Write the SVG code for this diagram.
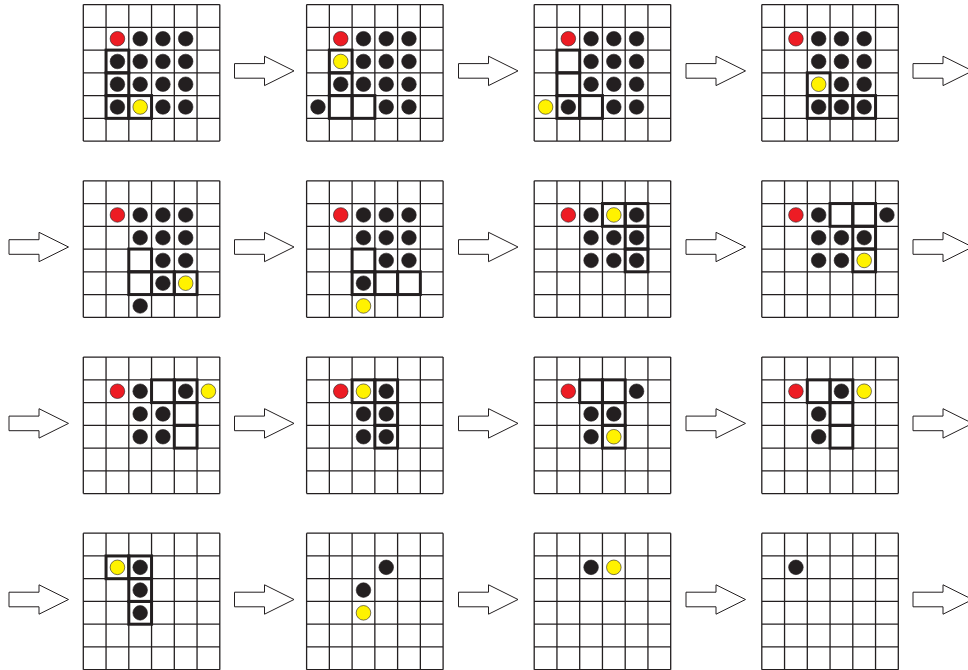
<svg xmlns="http://www.w3.org/2000/svg" xmlns:xlink="http://www.w3.org/1999/xlink" width="968" height="670" viewBox="0 0 968 670">
<style>
.gl{stroke:#231f20;stroke-width:1.3;fill:none}
.hl{fill:none;stroke:#231f20;stroke-width:3}
.k{fill:#231f20;stroke:#231f20;stroke-width:0.6}
.r{fill:#ed1c24;stroke:#231f20;stroke-width:0.6}
.y{fill:#fff200;stroke:#231f20;stroke-width:0.6}
.ar{fill:#fff;stroke:#231f20;stroke-width:1}
</style>
<defs>
<g id="grid">
<rect x="0" y="0" width="136.5" height="136.5" fill="#fff"/>
<path class="gl" d="M0,0V136.5M22.75,0V136.5M45.5,0V136.5M68.25,0V136.5M91,0V136.5M113.75,0V136.5M136.5,0V136.5M0,0H136.5M0,22.75H136.5M0,45.5H136.5M0,68.25H136.5M0,91H136.5M0,113.75H136.5M0,136.5H136.5"/>
</g>
<path id="arr" class="ar" d="M0,-7.3H30V-14.7L59.5,0L30,14.7V7.3H0Z"/>
</defs>
<rect width="968" height="670" fill="#fff"/>

<g id="connectors">
<use href="#arr" x="234.5" y="70.9"/>
<use href="#arr" x="458.5" y="70.9"/>
<use href="#arr" x="686" y="70.9"/>
<use href="#arr" x="913" y="70.9"/>
<use href="#arr" x="9" y="247"/>
<use href="#arr" x="234.5" y="247"/>
<use href="#arr" x="458.5" y="247"/>
<use href="#arr" x="686" y="247"/>
<use href="#arr" x="913" y="247"/>
<use href="#arr" x="9" y="423.4"/>
<use href="#arr" x="234.5" y="423.4"/>
<use href="#arr" x="458.5" y="423.4"/>
<use href="#arr" x="686" y="423.4"/>
<use href="#arr" x="913" y="423.4"/>
<use href="#arr" x="9" y="599.5"/>
<use href="#arr" x="234.5" y="599.5"/>
<use href="#arr" x="458.5" y="599.5"/>
<use href="#arr" x="686" y="599.5"/>
<use href="#arr" x="913" y="599.5"/>
</g>

<g id="grid-1" transform="translate(83.3,4.6)">
<use href="#grid"/>
<rect class="hl" x="22.75" y="45.5" width="22.75" height="22.75"/>
<rect class="hl" x="22.75" y="68.25" width="22.75" height="22.75"/>
<rect class="hl" x="22.75" y="91" width="22.75" height="22.75"/>
<rect class="hl" x="45.5" y="91" width="22.75" height="22.75"/>
<circle class="r" cx="34.125" cy="34.125" r="7.3"/>
<circle class="k" cx="56.875" cy="34.125" r="7.3"/><circle class="k" cx="79.625" cy="34.125" r="7.3"/><circle class="k" cx="102.375" cy="34.125" r="7.3"/>
<circle class="k" cx="34.125" cy="56.875" r="7.3"/><circle class="k" cx="56.875" cy="56.875" r="7.3"/><circle class="k" cx="79.625" cy="56.875" r="7.3"/><circle class="k" cx="102.375" cy="56.875" r="7.3"/>
<circle class="k" cx="34.125" cy="79.625" r="7.3"/><circle class="k" cx="56.875" cy="79.625" r="7.3"/><circle class="k" cx="79.625" cy="79.625" r="7.3"/><circle class="k" cx="102.375" cy="79.625" r="7.3"/>
<circle class="k" cx="34.125" cy="102.375" r="7.3"/><circle class="y" cx="56.875" cy="102.375" r="7.3"/><circle class="k" cx="79.625" cy="102.375" r="7.3"/><circle class="k" cx="102.375" cy="102.375" r="7.3"/>
</g>

<g id="grid-2" transform="translate(306.6,4.6)">
<use href="#grid"/>
<rect class="hl" x="22.75" y="45.5" width="22.75" height="22.75"/>
<rect class="hl" x="22.75" y="68.25" width="22.75" height="22.75"/>
<rect class="hl" x="22.75" y="91" width="22.75" height="22.75"/>
<rect class="hl" x="45.5" y="91" width="22.75" height="22.75"/>
<circle class="r" cx="34.125" cy="34.125" r="7.3"/>
<circle class="k" cx="56.875" cy="34.125" r="7.3"/><circle class="k" cx="79.625" cy="34.125" r="7.3"/><circle class="k" cx="102.375" cy="34.125" r="7.3"/>
<circle class="y" cx="34.125" cy="56.875" r="7.3"/><circle class="k" cx="56.875" cy="56.875" r="7.3"/><circle class="k" cx="79.625" cy="56.875" r="7.3"/><circle class="k" cx="102.375" cy="56.875" r="7.3"/>
<circle class="k" cx="34.125" cy="79.625" r="7.3"/><circle class="k" cx="56.875" cy="79.625" r="7.3"/><circle class="k" cx="79.625" cy="79.625" r="7.3"/><circle class="k" cx="102.375" cy="79.625" r="7.3"/>
<circle class="k" cx="11.375" cy="102.375" r="7.3"/><circle class="k" cx="79.625" cy="102.375" r="7.3"/><circle class="k" cx="102.375" cy="102.375" r="7.3"/>
</g>

<g id="grid-3" transform="translate(534.2,4.6)">
<use href="#grid"/>
<rect class="hl" x="22.75" y="45.5" width="22.75" height="22.75"/>
<rect class="hl" x="22.75" y="68.25" width="22.75" height="22.75"/>
<rect class="hl" x="22.75" y="91" width="22.75" height="22.75"/>
<rect class="hl" x="45.5" y="91" width="22.75" height="22.75"/>
<circle class="r" cx="34.125" cy="34.125" r="7.3"/>
<circle class="k" cx="56.875" cy="34.125" r="7.3"/><circle class="k" cx="79.625" cy="34.125" r="7.3"/><circle class="k" cx="102.375" cy="34.125" r="7.3"/>
<circle class="k" cx="56.875" cy="56.875" r="7.3"/><circle class="k" cx="79.625" cy="56.875" r="7.3"/><circle class="k" cx="102.375" cy="56.875" r="7.3"/>
<circle class="k" cx="56.875" cy="79.625" r="7.3"/><circle class="k" cx="79.625" cy="79.625" r="7.3"/><circle class="k" cx="102.375" cy="79.625" r="7.3"/>
<circle class="y" cx="11.375" cy="102.375" r="7.3"/><circle class="k" cx="34.125" cy="102.375" r="7.3"/><circle class="k" cx="79.625" cy="102.375" r="7.3"/><circle class="k" cx="102.375" cy="102.375" r="7.3"/>
</g>

<g id="grid-4" transform="translate(761.8,4.6)">
<use href="#grid"/>
<rect class="hl" x="45.5" y="68.25" width="22.75" height="22.75"/>
<rect class="hl" x="45.5" y="91" width="22.75" height="22.75"/>
<rect class="hl" x="68.25" y="91" width="22.75" height="22.75"/>
<rect class="hl" x="91" y="91" width="22.75" height="22.75"/>
<circle class="r" cx="34.125" cy="34.125" r="7.3"/>
<circle class="k" cx="56.875" cy="34.125" r="7.3"/><circle class="k" cx="79.625" cy="34.125" r="7.3"/><circle class="k" cx="102.375" cy="34.125" r="7.3"/>
<circle class="k" cx="56.875" cy="56.875" r="7.3"/><circle class="k" cx="79.625" cy="56.875" r="7.3"/><circle class="k" cx="102.375" cy="56.875" r="7.3"/>
<circle class="y" cx="56.875" cy="79.625" r="7.3"/><circle class="k" cx="79.625" cy="79.625" r="7.3"/><circle class="k" cx="102.375" cy="79.625" r="7.3"/>
<circle class="k" cx="56.875" cy="102.375" r="7.3"/><circle class="k" cx="79.625" cy="102.375" r="7.3"/><circle class="k" cx="102.375" cy="102.375" r="7.3"/>
</g>

<g id="grid-5" transform="translate(83.3,180.8)">
<use href="#grid"/>
<rect class="hl" x="45.5" y="68.25" width="22.75" height="22.75"/>
<rect class="hl" x="45.5" y="91" width="22.75" height="22.75"/>
<rect class="hl" x="68.25" y="91" width="22.75" height="22.75"/>
<rect class="hl" x="91" y="91" width="22.75" height="22.75"/>
<circle class="r" cx="34.125" cy="34.125" r="7.3"/>
<circle class="k" cx="56.875" cy="34.125" r="7.3"/><circle class="k" cx="79.625" cy="34.125" r="7.3"/><circle class="k" cx="102.375" cy="34.125" r="7.3"/>
<circle class="k" cx="56.875" cy="56.875" r="7.3"/><circle class="k" cx="79.625" cy="56.875" r="7.3"/><circle class="k" cx="102.375" cy="56.875" r="7.3"/>
<circle class="k" cx="79.625" cy="79.625" r="7.3"/><circle class="k" cx="102.375" cy="79.625" r="7.3"/>
<circle class="k" cx="79.625" cy="102.375" r="7.3"/><circle class="y" cx="102.375" cy="102.375" r="7.3"/>
<circle class="k" cx="56.875" cy="125.125" r="7.3"/>
</g>

<g id="grid-6" transform="translate(306.6,180.8)">
<use href="#grid"/>
<rect class="hl" x="45.5" y="68.25" width="22.75" height="22.75"/>
<rect class="hl" x="45.5" y="91" width="22.75" height="22.75"/>
<rect class="hl" x="68.25" y="91" width="22.75" height="22.75"/>
<rect class="hl" x="91" y="91" width="22.75" height="22.75"/>
<circle class="r" cx="34.125" cy="34.125" r="7.3"/>
<circle class="k" cx="56.875" cy="34.125" r="7.3"/><circle class="k" cx="79.625" cy="34.125" r="7.3"/><circle class="k" cx="102.375" cy="34.125" r="7.3"/>
<circle class="k" cx="56.875" cy="56.875" r="7.3"/><circle class="k" cx="79.625" cy="56.875" r="7.3"/><circle class="k" cx="102.375" cy="56.875" r="7.3"/>
<circle class="k" cx="79.625" cy="79.625" r="7.3"/><circle class="k" cx="102.375" cy="79.625" r="7.3"/>
<circle class="k" cx="56.875" cy="102.375" r="7.3"/>
<circle class="y" cx="56.875" cy="125.125" r="7.3"/>
</g>

<g id="grid-7" transform="translate(534.2,180.8)">
<use href="#grid"/>
<rect class="hl" x="68.25" y="22.75" width="22.75" height="22.75"/>
<rect class="hl" x="91" y="22.75" width="22.75" height="22.75"/>
<rect class="hl" x="91" y="45.5" width="22.75" height="22.75"/>
<rect class="hl" x="91" y="68.25" width="22.75" height="22.75"/>
<circle class="r" cx="34.125" cy="34.125" r="7.3"/>
<circle class="k" cx="56.875" cy="34.125" r="7.3"/><circle class="y" cx="79.625" cy="34.125" r="7.3"/><circle class="k" cx="102.375" cy="34.125" r="7.3"/>
<circle class="k" cx="56.875" cy="56.875" r="7.3"/><circle class="k" cx="79.625" cy="56.875" r="7.3"/><circle class="k" cx="102.375" cy="56.875" r="7.3"/>
<circle class="k" cx="56.875" cy="79.625" r="7.3"/><circle class="k" cx="79.625" cy="79.625" r="7.3"/><circle class="k" cx="102.375" cy="79.625" r="7.3"/>
</g>

<g id="grid-8" transform="translate(761.8,180.8)">
<use href="#grid"/>
<rect class="hl" x="68.25" y="22.75" width="22.75" height="22.75"/>
<rect class="hl" x="91" y="22.75" width="22.75" height="22.75"/>
<rect class="hl" x="91" y="45.5" width="22.75" height="22.75"/>
<rect class="hl" x="91" y="68.25" width="22.75" height="22.75"/>
<circle class="r" cx="34.125" cy="34.125" r="7.3"/>
<circle class="k" cx="56.875" cy="34.125" r="7.3"/><circle class="k" cx="125.125" cy="34.125" r="7.3"/>
<circle class="k" cx="56.875" cy="56.875" r="7.3"/><circle class="k" cx="79.625" cy="56.875" r="7.3"/><circle class="k" cx="102.375" cy="56.875" r="7.3"/>
<circle class="k" cx="56.875" cy="79.625" r="7.3"/><circle class="k" cx="79.625" cy="79.625" r="7.3"/><circle class="y" cx="102.375" cy="79.625" r="7.3"/>
</g>

<g id="grid-9" transform="translate(83.3,357.1)">
<use href="#grid"/>
<rect class="hl" x="68.25" y="22.75" width="22.75" height="22.75"/>
<rect class="hl" x="91" y="22.75" width="22.75" height="22.75"/>
<rect class="hl" x="91" y="45.5" width="22.75" height="22.75"/>
<rect class="hl" x="91" y="68.25" width="22.75" height="22.75"/>
<circle class="r" cx="34.125" cy="34.125" r="7.3"/>
<circle class="k" cx="56.875" cy="34.125" r="7.3"/><circle class="k" cx="102.375" cy="34.125" r="7.3"/><circle class="y" cx="125.125" cy="34.125" r="7.3"/>
<circle class="k" cx="56.875" cy="56.875" r="7.3"/><circle class="k" cx="79.625" cy="56.875" r="7.3"/>
<circle class="k" cx="56.875" cy="79.625" r="7.3"/><circle class="k" cx="79.625" cy="79.625" r="7.3"/>
</g>

<g id="grid-10" transform="translate(306.6,357.1)">
<use href="#grid"/>
<rect class="hl" x="45.5" y="22.75" width="22.75" height="22.75"/>
<rect class="hl" x="68.25" y="22.75" width="22.75" height="22.75"/>
<rect class="hl" x="68.25" y="45.5" width="22.75" height="22.75"/>
<rect class="hl" x="68.25" y="68.25" width="22.75" height="22.75"/>
<circle class="r" cx="34.125" cy="34.125" r="7.3"/>
<circle class="y" cx="56.875" cy="34.125" r="7.3"/><circle class="k" cx="79.625" cy="34.125" r="7.3"/>
<circle class="k" cx="56.875" cy="56.875" r="7.3"/><circle class="k" cx="79.625" cy="56.875" r="7.3"/>
<circle class="k" cx="56.875" cy="79.625" r="7.3"/><circle class="k" cx="79.625" cy="79.625" r="7.3"/>
</g>

<g id="grid-11" transform="translate(534.2,357.1)">
<use href="#grid"/>
<rect class="hl" x="45.5" y="22.75" width="22.75" height="22.75"/>
<rect class="hl" x="68.25" y="22.75" width="22.75" height="22.75"/>
<rect class="hl" x="68.25" y="45.5" width="22.75" height="22.75"/>
<rect class="hl" x="68.25" y="68.25" width="22.75" height="22.75"/>
<circle class="r" cx="34.125" cy="34.125" r="7.3"/>
<circle class="k" cx="102.375" cy="34.125" r="7.3"/>
<circle class="k" cx="56.875" cy="56.875" r="7.3"/><circle class="k" cx="79.625" cy="56.875" r="7.3"/>
<circle class="k" cx="56.875" cy="79.625" r="7.3"/><circle class="y" cx="79.625" cy="79.625" r="7.3"/>
</g>

<g id="grid-12" transform="translate(761.8,357.1)">
<use href="#grid"/>
<rect class="hl" x="45.5" y="22.75" width="22.75" height="22.75"/>
<rect class="hl" x="68.25" y="22.75" width="22.75" height="22.75"/>
<rect class="hl" x="68.25" y="45.5" width="22.75" height="22.75"/>
<rect class="hl" x="68.25" y="68.25" width="22.75" height="22.75"/>
<circle class="r" cx="34.125" cy="34.125" r="7.3"/>
<circle class="k" cx="79.625" cy="34.125" r="7.3"/><circle class="y" cx="102.375" cy="34.125" r="7.3"/>
<circle class="k" cx="56.875" cy="56.875" r="7.3"/>
<circle class="k" cx="56.875" cy="79.625" r="7.3"/>
</g>

<g id="grid-13" transform="translate(83.3,533.2)">
<use href="#grid"/>
<rect class="hl" x="22.75" y="22.75" width="22.75" height="22.75"/>
<rect class="hl" x="45.5" y="22.75" width="22.75" height="22.75"/>
<rect class="hl" x="45.5" y="45.5" width="22.75" height="22.75"/>
<rect class="hl" x="45.5" y="68.25" width="22.75" height="22.75"/>
<circle class="y" cx="34.125" cy="34.125" r="7.3"/><circle class="k" cx="56.875" cy="34.125" r="7.3"/>
<circle class="k" cx="56.875" cy="56.875" r="7.3"/>
<circle class="k" cx="56.875" cy="79.625" r="7.3"/>
</g>

<g id="grid-14" transform="translate(306.6,533.2)">
<use href="#grid"/>
<circle class="k" cx="79.625" cy="34.125" r="7.3"/>
<circle class="k" cx="56.875" cy="56.875" r="7.3"/>
<circle class="y" cx="56.875" cy="79.625" r="7.3"/>
</g>

<g id="grid-15" transform="translate(534.2,533.2)">
<use href="#grid"/>
<circle class="k" cx="56.875" cy="34.125" r="7.3"/><circle class="y" cx="79.625" cy="34.125" r="7.3"/>
</g>

<g id="grid-16" transform="translate(761.8,533.2)">
<use href="#grid"/>
<circle class="k" cx="34.125" cy="34.125" r="7.3"/>
</g>
</svg>
